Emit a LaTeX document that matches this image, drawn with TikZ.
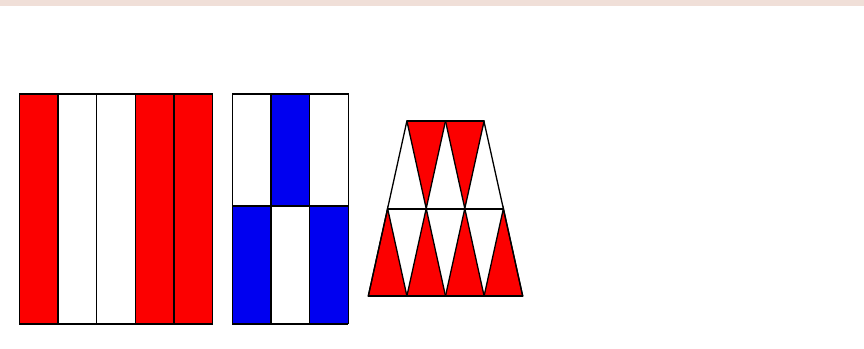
\documentclass[tikz,border=0pt]{standalone}
\definecolor{bandpink}{RGB}{240,223,216}
\definecolor{flagred}{RGB}{252,0,0}
\definecolor{flagblue}{RGB}{0,0,240}
\usetikzlibrary{calc}

\begin{document}
\begin{tikzpicture}[x=1pt, y=-1pt, line width=1.3pt,
    cell/.style={draw=black, fill=#1},
    edge/.style={draw=black, line width=2pt}]
  \useasboundingbox (0,0) rectangle (864,348);
  \fill[bandpink] (0,0) rectangle (864,6);

  % five vertical stripes
  \foreach \i/\c in {0/flagred,1/white,2/white,3/flagred,4/flagred}
    \path[cell=\c] ({19.3+38.7*\i},93.5) rectangle ++(38.7,230);
  \draw[edge] (19.3,93.5) -- (212.8,93.5);
  \draw[edge] (19.3,323.5) -- (212.8,323.5);

  % two rows of three
  \foreach \i/\c in {0/white,1/flagblue,2/white}
    \path[cell=\c] ({232.3+38.7*\i},94) rectangle ++(38.7,112);
  \foreach \i/\c in {0/flagblue,1/white,2/flagblue}
    \path[cell=\c] ({232.3+38.7*\i},206) rectangle ++(38.7,117.5);
  \draw[edge] (232.3,94) -- (348.4,94);
  \draw[edge] (232.3,206) -- (348.4,206);
  \draw[edge] (232.3,323.5) -- (348.4,323.5);

  % trapezoid of triangles
  \def\u{38.6}
  \foreach \i in {0,...,3}
    \path[cell=flagred] ({368.3+\u*\i},296) -- ++(\u,0) -- ++(-\u/2,-87.5) -- cycle;
  \foreach \i in {1,2}
    \path[cell=flagred] ({368.3+\u*\i},121) -- ++(\u,0) -- ++(-\u/2,87.5) -- cycle;
  \draw (368.3,296) -- (406.9,121) (522.7,296) -- (483.9,121);
  \draw[edge] (406.9,121) -- (483.9,121);
  \draw[edge] (387.6,208.5) -- (503.4,208.5);
  \draw[edge] (368.3,296) -- (522.7,296);
\end{tikzpicture}
\end{document}
